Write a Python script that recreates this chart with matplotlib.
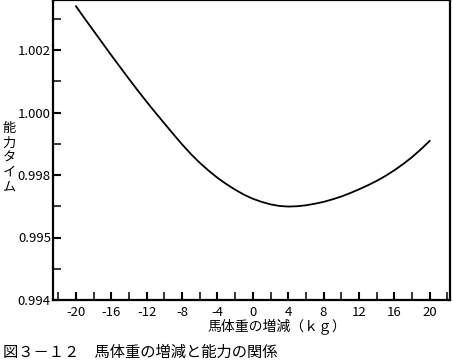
import numpy as np
import matplotlib
matplotlib.use("Agg")
import matplotlib.pyplot as plt
from matplotlib.ticker import MultipleLocator, FixedLocator

plt.rcParams['font.family'] = ['Noto Sans CJK JP', 'DejaVu Sans']

# ---- data (one point per kg)
weight_change = list(range(-20, 21))
ability_time = [1.00340, 1.00300, 1.00261, 1.00222, 1.00183, 1.00145, 1.00107, 1.00070, 1.00034,
                0.99999, 0.99965, 0.99931, 0.99898, 0.99867, 0.99839, 0.99814, 0.99791, 0.99771,
                0.99753, 0.99737, 0.99724, 0.99714, 0.99706, 0.99701, 0.99699, 0.99700, 0.99703,
                0.99708, 0.99714, 0.99722, 0.99731, 0.99742, 0.99754, 0.99767, 0.99781, 0.99797,
                0.99815, 0.99835, 0.99857, 0.99882, 0.99909]
y_ticks = [0.994, 0.996, 0.998, 1.000, 1.002]
y_labels = ['0.994', '0.995', '0.998', '1.000', '1.002']
x_ticks = [-20, -16, -12, -8, -4, 0, 4, 8, 12, 16, 20]

fig = plt.figure(figsize=(4.53, 3.63), dpi=100)
ax = fig.add_axes([53/453, 63/363, 397/453, 300/363])

ax.plot(weight_change, ability_time, color='black', lw=1.3)

ax.set_xlim(-22.6, 22.3)
ax.set_ylim(0.994, 1.0036)

ax.xaxis.set_major_locator(FixedLocator(x_ticks))
ax.xaxis.set_minor_locator(MultipleLocator(2))
ax.set_xticklabels([str(v) for v in x_ticks])
ax.yaxis.set_major_locator(FixedLocator(y_ticks))
ax.yaxis.set_minor_locator(MultipleLocator(0.001))
ax.set_yticklabels(y_labels)

ax.tick_params(which='major', direction='in', length=6, width=1.5, labelsize=9.5, pad=4)
ax.tick_params(axis='y', which='major', pad=1.5)
ax.tick_params(which='minor', direction='in', length=6, width=1.1)
for s in ax.spines.values():
    s.set_linewidth(1.6)

fig.text(277/453, 1 - 327/363, '馬体重の増減（ｋｇ）', ha='center', va='center', fontsize=10)
fig.text(9/453, 1 - 158/363, '\n'.join('能力タイム'), ha='center', va='center',
         fontsize=9.5, linespacing=1.15)
fig.text(3/453, 1 - 352/363, '図３－１２　馬体重の増減と能力の関係', ha='left', va='center', fontsize=11)

fig.savefig('out.png', dpi=100)
